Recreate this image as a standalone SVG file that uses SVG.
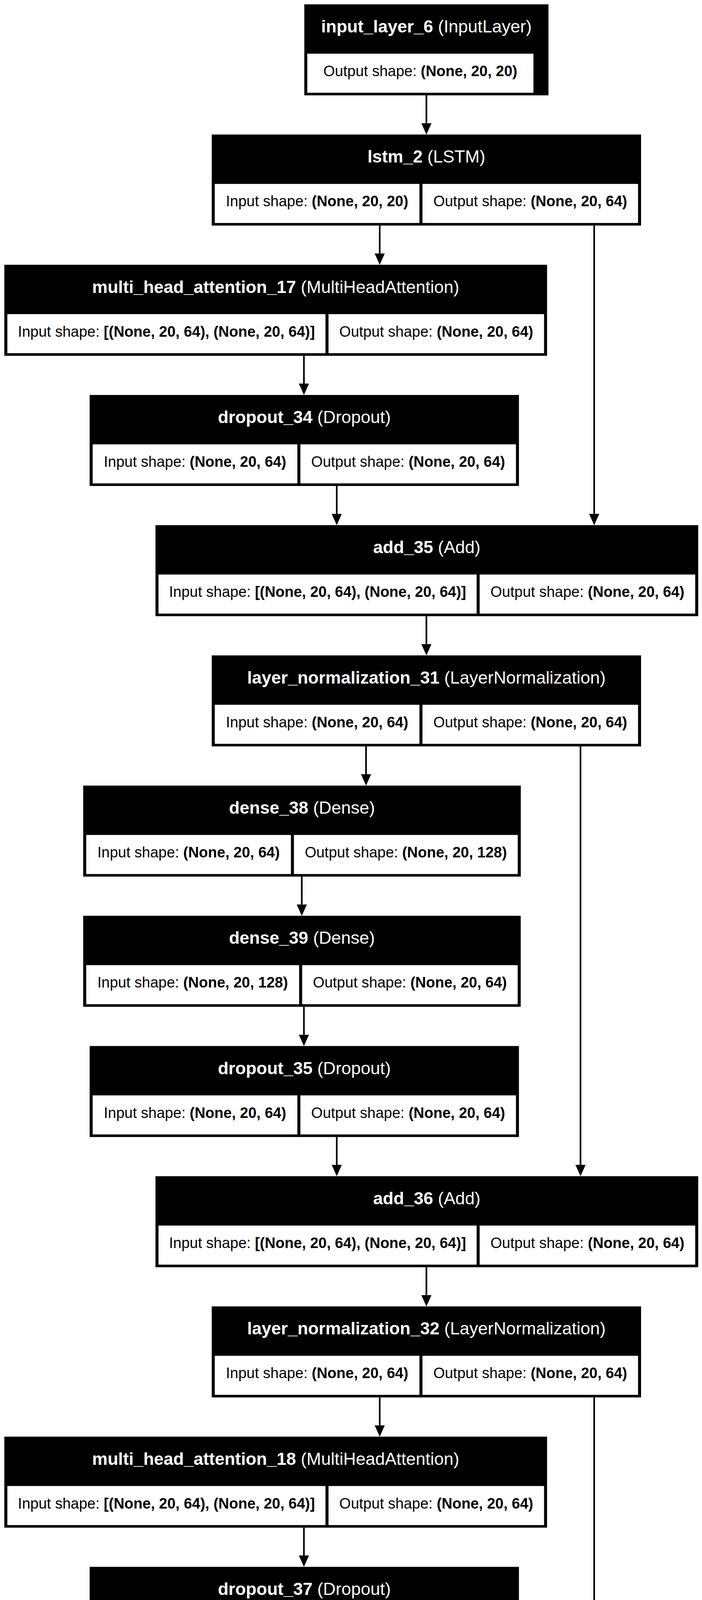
<svg xmlns="http://www.w3.org/2000/svg" width="1797" height="7589" viewBox="0 0 1797 7589">
<style>
.bg{fill:#000}
.cell{fill:#fff}
.ti{fill:#fff;font-family:"Liberation Sans",Arial,Helvetica,sans-serif;font-size:44.5px;text-anchor:middle}
.tx{fill:#000;font-family:"Liberation Sans",Arial,Helvetica,sans-serif;font-size:38px;text-anchor:middle}
.b{font-weight:bold}
.edge{stroke:#000;stroke-width:4.2;fill:none;marker-end:url(#ah)}
</style>
<defs>
<marker id="ah" markerUnits="userSpaceOnUse" viewBox="0 0 30 26" markerWidth="30" markerHeight="26" refX="0" refY="13" orient="auto">
<path d="M0,0 L29,13 L0,26 Z" fill="#000"/>
</marker>
</defs>
<rect x="0" y="0" width="1797" height="7589" fill="#fff"/>

<g id="connectors">
<line class="edge" x1="1091.5" y1="244.1" x2="1091.5" y2="315.4"/>
<line class="edge" x1="972" y1="577.4" x2="972" y2="648.8"/>
<line class="edge" x1="1521" y1="577.4" x2="1521" y2="1315.4"/>
<line class="edge" x1="778" y1="910.8" x2="778" y2="982.1"/>
<line class="edge" x1="862" y1="1244.1" x2="862" y2="1315.4"/>
<line class="edge" x1="1091.5" y1="1577.4" x2="1091.5" y2="1648.8"/>
<line class="edge" x1="937" y1="1910.8" x2="937" y2="1982.1"/>
<line class="edge" x1="1486" y1="1910.8" x2="1486" y2="2982.1"/>
<line class="edge" x1="772.5" y1="2244.1" x2="772.5" y2="2315.4"/>
<line class="edge" x1="778" y1="2577.4" x2="778" y2="2648.8"/>
<line class="edge" x1="862" y1="2910.8" x2="862" y2="2982.1"/>
<line class="edge" x1="1091.5" y1="3244.1" x2="1091.5" y2="3315.4"/>
<line class="edge" x1="972" y1="3577.4" x2="972" y2="3648.8"/>
<line class="edge" x1="1521" y1="3577.4" x2="1521" y2="4315.4"/>
<line class="edge" x1="778" y1="3910.8" x2="778" y2="3982.1"/>
<line class="edge" x1="862" y1="4244.1" x2="862" y2="4315.4"/>
<line class="edge" x1="1091.5" y1="4577.4" x2="1091.5" y2="4648.8"/>
<line class="edge" x1="937" y1="4910.8" x2="937" y2="4982.1"/>
<line class="edge" x1="1486" y1="4910.8" x2="1486" y2="5982.1"/>
<line class="edge" x1="772.5" y1="5244.1" x2="772.5" y2="5315.4"/>
<line class="edge" x1="778" y1="5577.4" x2="778" y2="5648.8"/>
<line class="edge" x1="862" y1="5910.8" x2="862" y2="5982.1"/>
<line class="edge" x1="1091.5" y1="6244.1" x2="1091.5" y2="6315.4"/>
<line class="edge" x1="1091.5" y1="6577.4" x2="1091.5" y2="6648.8"/>
<line class="edge" x1="1091.5" y1="6910.8" x2="1091.5" y2="6982.1"/>
<line class="edge" x1="1091.5" y1="7244.1" x2="1091.5" y2="7315.4"/>
</g>

<g id="input_layer_6" transform="translate(0,11.1)">
<rect class="bg" x="779" y="0" width="625" height="233"/>
<rect class="cell" x="786.5" y="126.4" width="579" height="100"/>
<text class="ti" x="1091.5" y="72"><tspan class="b">input_layer_6</tspan> (InputLayer)</text>
<text class="tx" x="1076" y="184">Output shape: <tspan class="b">(None, 20, 20)</tspan></text>
</g>

<g id="lstm_2" transform="translate(0,344.4)">
<rect class="bg" x="542" y="0" width="1099" height="233"/>
<rect class="cell" x="549.7" y="126.4" width="524" height="100"/>
<rect class="cell" x="1081.4" y="126.4" width="551.9" height="100"/>
<text class="ti" x="1091.5" y="72"><tspan class="b">lstm_2</tspan> (LSTM)</text>
<text class="tx" x="811.7" y="184">Input shape: <tspan class="b">(None, 20, 20)</tspan></text>
<text class="tx" x="1357.35" y="184">Output shape: <tspan class="b">(None, 20, 64)</tspan></text>
</g>

<g id="multi_head_attention_17" transform="translate(0,677.8)">
<rect class="bg" x="11.1" y="0" width="1389.3" height="233"/>
<rect class="cell" x="18.8" y="126.4" width="814.4" height="100"/>
<rect class="cell" x="840.9" y="126.4" width="551.8" height="100"/>
<text class="ti" x="705.75" y="72"><tspan class="b">multi_head_attention_17</tspan> (MultiHeadAttention)</text>
<text class="tx" x="426" y="184">Input shape: <tspan class="b">[(None, 20, 64), (None, 20, 64)]</tspan></text>
<text class="tx" x="1116.8" y="184">Output shape: <tspan class="b">(None, 20, 64)</tspan></text>
</g>

<g id="dropout_34" transform="translate(0,1011.1)">
<rect class="bg" x="229.5" y="0" width="1098.9" height="233"/>
<rect class="cell" x="237.2" y="126.4" width="524" height="100"/>
<rect class="cell" x="768.9" y="126.4" width="551.8" height="100"/>
<text class="ti" x="778.95" y="72"><tspan class="b">dropout_34</tspan> (Dropout)</text>
<text class="tx" x="499.2" y="184">Input shape: <tspan class="b">(None, 20, 64)</tspan></text>
<text class="tx" x="1044.8" y="184">Output shape: <tspan class="b">(None, 20, 64)</tspan></text>
</g>

<g id="add_35" transform="translate(0,1344.4)">
<rect class="bg" x="398" y="0" width="1389.3" height="233"/>
<rect class="cell" x="405.7" y="126.4" width="814.4" height="100"/>
<rect class="cell" x="1227.8" y="126.4" width="551.8" height="100"/>
<text class="ti" x="1092.65" y="72"><tspan class="b">add_35</tspan> (Add)</text>
<text class="tx" x="812.9" y="184">Input shape: <tspan class="b">[(None, 20, 64), (None, 20, 64)]</tspan></text>
<text class="tx" x="1503.7" y="184">Output shape: <tspan class="b">(None, 20, 64)</tspan></text>
</g>

<g id="layer_normalization_31" transform="translate(0,1677.8)">
<rect class="bg" x="542" y="0" width="1099" height="233"/>
<rect class="cell" x="549.7" y="126.4" width="524" height="100"/>
<rect class="cell" x="1081.4" y="126.4" width="551.9" height="100"/>
<text class="ti" x="1091.5" y="72"><tspan class="b">layer_normalization_31</tspan> (LayerNormalization)</text>
<text class="tx" x="811.7" y="184">Input shape: <tspan class="b">(None, 20, 64)</tspan></text>
<text class="tx" x="1357.35" y="184">Output shape: <tspan class="b">(None, 20, 64)</tspan></text>
</g>

<g id="dense_38" transform="translate(0,2011.1)">
<rect class="bg" x="213" y="0" width="1120.1" height="233"/>
<rect class="cell" x="220.7" y="126.4" width="524" height="100"/>
<rect class="cell" x="752.4" y="126.4" width="573" height="100"/>
<text class="ti" x="773.05" y="72"><tspan class="b">dense_38</tspan> (Dense)</text>
<text class="tx" x="482.7" y="184">Input shape: <tspan class="b">(None, 20, 64)</tspan></text>
<text class="tx" x="1038.9" y="184">Output shape: <tspan class="b">(None, 20, 128)</tspan></text>
</g>

<g id="dense_39" transform="translate(0,2344.4)">
<rect class="bg" x="213" y="0" width="1119.9" height="233"/>
<rect class="cell" x="220.7" y="126.4" width="545" height="100"/>
<rect class="cell" x="773.4" y="126.4" width="551.8" height="100"/>
<text class="ti" x="772.95" y="72"><tspan class="b">dense_39</tspan> (Dense)</text>
<text class="tx" x="493.2" y="184">Input shape: <tspan class="b">(None, 20, 128)</tspan></text>
<text class="tx" x="1049.3" y="184">Output shape: <tspan class="b">(None, 20, 64)</tspan></text>
</g>

<g id="dropout_35" transform="translate(0,2677.8)">
<rect class="bg" x="229.5" y="0" width="1098.9" height="233"/>
<rect class="cell" x="237.2" y="126.4" width="524" height="100"/>
<rect class="cell" x="768.9" y="126.4" width="551.8" height="100"/>
<text class="ti" x="778.95" y="72"><tspan class="b">dropout_35</tspan> (Dropout)</text>
<text class="tx" x="499.2" y="184">Input shape: <tspan class="b">(None, 20, 64)</tspan></text>
<text class="tx" x="1044.8" y="184">Output shape: <tspan class="b">(None, 20, 64)</tspan></text>
</g>

<g id="add_36" transform="translate(0,3011.1)">
<rect class="bg" x="398" y="0" width="1389.3" height="233"/>
<rect class="cell" x="405.7" y="126.4" width="814.4" height="100"/>
<rect class="cell" x="1227.8" y="126.4" width="551.8" height="100"/>
<text class="ti" x="1092.65" y="72"><tspan class="b">add_36</tspan> (Add)</text>
<text class="tx" x="812.9" y="184">Input shape: <tspan class="b">[(None, 20, 64), (None, 20, 64)]</tspan></text>
<text class="tx" x="1503.7" y="184">Output shape: <tspan class="b">(None, 20, 64)</tspan></text>
</g>

<g id="layer_normalization_32" transform="translate(0,3344.4)">
<rect class="bg" x="542" y="0" width="1099" height="233"/>
<rect class="cell" x="549.7" y="126.4" width="524" height="100"/>
<rect class="cell" x="1081.4" y="126.4" width="551.9" height="100"/>
<text class="ti" x="1091.5" y="72"><tspan class="b">layer_normalization_32</tspan> (LayerNormalization)</text>
<text class="tx" x="811.7" y="184">Input shape: <tspan class="b">(None, 20, 64)</tspan></text>
<text class="tx" x="1357.35" y="184">Output shape: <tspan class="b">(None, 20, 64)</tspan></text>
</g>

<g id="multi_head_attention_18" transform="translate(0,3677.8)">
<rect class="bg" x="11.1" y="0" width="1389.3" height="233"/>
<rect class="cell" x="18.8" y="126.4" width="814.4" height="100"/>
<rect class="cell" x="840.9" y="126.4" width="551.8" height="100"/>
<text class="ti" x="705.75" y="72"><tspan class="b">multi_head_attention_18</tspan> (MultiHeadAttention)</text>
<text class="tx" x="426" y="184">Input shape: <tspan class="b">[(None, 20, 64), (None, 20, 64)]</tspan></text>
<text class="tx" x="1116.8" y="184">Output shape: <tspan class="b">(None, 20, 64)</tspan></text>
</g>

<g id="dropout_37" transform="translate(0,4011.1)">
<rect class="bg" x="229.5" y="0" width="1098.9" height="233"/>
<rect class="cell" x="237.2" y="126.4" width="524" height="100"/>
<rect class="cell" x="768.9" y="126.4" width="551.8" height="100"/>
<text class="ti" x="778.95" y="72"><tspan class="b">dropout_37</tspan> (Dropout)</text>
<text class="tx" x="499.2" y="184">Input shape: <tspan class="b">(None, 20, 64)</tspan></text>
<text class="tx" x="1044.8" y="184">Output shape: <tspan class="b">(None, 20, 64)</tspan></text>
</g>

<g id="add_37" transform="translate(0,4344.4)">
<rect class="bg" x="398" y="0" width="1389.3" height="233"/>
<rect class="cell" x="405.7" y="126.4" width="814.4" height="100"/>
<rect class="cell" x="1227.8" y="126.4" width="551.8" height="100"/>
<text class="ti" x="1092.65" y="72"><tspan class="b">add_37</tspan> (Add)</text>
<text class="tx" x="812.9" y="184">Input shape: <tspan class="b">[(None, 20, 64), (None, 20, 64)]</tspan></text>
<text class="tx" x="1503.7" y="184">Output shape: <tspan class="b">(None, 20, 64)</tspan></text>
</g>

<g id="layer_normalization_33" transform="translate(0,4677.8)">
<rect class="bg" x="542" y="0" width="1099" height="233"/>
<rect class="cell" x="549.7" y="126.4" width="524" height="100"/>
<rect class="cell" x="1081.4" y="126.4" width="551.9" height="100"/>
<text class="ti" x="1091.5" y="72"><tspan class="b">layer_normalization_33</tspan> (LayerNormalization)</text>
<text class="tx" x="811.7" y="184">Input shape: <tspan class="b">(None, 20, 64)</tspan></text>
<text class="tx" x="1357.35" y="184">Output shape: <tspan class="b">(None, 20, 64)</tspan></text>
</g>

<g id="dense_40" transform="translate(0,5011.1)">
<rect class="bg" x="213" y="0" width="1120.1" height="233"/>
<rect class="cell" x="220.7" y="126.4" width="524" height="100"/>
<rect class="cell" x="752.4" y="126.4" width="573" height="100"/>
<text class="ti" x="773.05" y="72"><tspan class="b">dense_40</tspan> (Dense)</text>
<text class="tx" x="482.7" y="184">Input shape: <tspan class="b">(None, 20, 64)</tspan></text>
<text class="tx" x="1038.9" y="184">Output shape: <tspan class="b">(None, 20, 128)</tspan></text>
</g>

<g id="dense_41" transform="translate(0,5344.4)">
<rect class="bg" x="213" y="0" width="1119.9" height="233"/>
<rect class="cell" x="220.7" y="126.4" width="545" height="100"/>
<rect class="cell" x="773.4" y="126.4" width="551.8" height="100"/>
<text class="ti" x="772.95" y="72"><tspan class="b">dense_41</tspan> (Dense)</text>
<text class="tx" x="493.2" y="184">Input shape: <tspan class="b">(None, 20, 128)</tspan></text>
<text class="tx" x="1049.3" y="184">Output shape: <tspan class="b">(None, 20, 64)</tspan></text>
</g>

<g id="dropout_38" transform="translate(0,5677.8)">
<rect class="bg" x="229.5" y="0" width="1098.9" height="233"/>
<rect class="cell" x="237.2" y="126.4" width="524" height="100"/>
<rect class="cell" x="768.9" y="126.4" width="551.8" height="100"/>
<text class="ti" x="778.95" y="72"><tspan class="b">dropout_38</tspan> (Dropout)</text>
<text class="tx" x="499.2" y="184">Input shape: <tspan class="b">(None, 20, 64)</tspan></text>
<text class="tx" x="1044.8" y="184">Output shape: <tspan class="b">(None, 20, 64)</tspan></text>
</g>

<g id="add_38" transform="translate(0,6011.1)">
<rect class="bg" x="398" y="0" width="1389.3" height="233"/>
<rect class="cell" x="405.7" y="126.4" width="814.4" height="100"/>
<rect class="cell" x="1227.8" y="126.4" width="551.8" height="100"/>
<text class="ti" x="1092.65" y="72"><tspan class="b">add_38</tspan> (Add)</text>
<text class="tx" x="812.9" y="184">Input shape: <tspan class="b">[(None, 20, 64), (None, 20, 64)]</tspan></text>
<text class="tx" x="1503.7" y="184">Output shape: <tspan class="b">(None, 20, 64)</tspan></text>
</g>

<g id="layer_normalization_34" transform="translate(0,6344.4)">
<rect class="bg" x="542" y="0" width="1099" height="233"/>
<rect class="cell" x="549.7" y="126.4" width="524" height="100"/>
<rect class="cell" x="1081.4" y="126.4" width="551.9" height="100"/>
<text class="ti" x="1091.5" y="72"><tspan class="b">layer_normalization_34</tspan> (LayerNormalization)</text>
<text class="tx" x="811.7" y="184">Input shape: <tspan class="b">(None, 20, 64)</tspan></text>
<text class="tx" x="1357.35" y="184">Output shape: <tspan class="b">(None, 20, 64)</tspan></text>
</g>

<g id="flatten_2" transform="translate(0,6677.8)">
<rect class="bg" x="552.5" y="0" width="1078" height="233"/>
<rect class="cell" x="560.2" y="126.4" width="524" height="100"/>
<rect class="cell" x="1091.9" y="126.4" width="530.9" height="100"/>
<text class="ti" x="1091.5" y="72"><tspan class="b">flatten_2</tspan> (Flatten)</text>
<text class="tx" x="822.2" y="184">Input shape: <tspan class="b">(None, 20, 64)</tspan></text>
<text class="tx" x="1357.35" y="184">Output shape: <tspan class="b">(None, 1280)</tspan></text>
</g>

<g id="dense_42" transform="translate(0,7011.1)">
<rect class="bg" x="584" y="0" width="1015" height="233"/>
<rect class="cell" x="591.7" y="126.4" width="503" height="100"/>
<rect class="cell" x="1102.4" y="126.4" width="488.9" height="100"/>
<text class="ti" x="1091.5" y="72"><tspan class="b">dense_42</tspan> (Dense)</text>
<text class="tx" x="843.2" y="184">Input shape: <tspan class="b">(None, 1280)</tspan></text>
<text class="tx" x="1346.85" y="184">Output shape: <tspan class="b">(None, 50)</tspan></text>
</g>

<g id="dense_43" transform="translate(0,7344.4)">
<rect class="bg" x="615.5" y="0" width="952" height="233"/>
<rect class="cell" x="623.2" y="126.4" width="461" height="100"/>
<rect class="cell" x="1091.9" y="126.4" width="467.9" height="100"/>
<text class="ti" x="1091.5" y="72"><tspan class="b">dense_43</tspan> (Dense)</text>
<text class="tx" x="853.7" y="184">Input shape: <tspan class="b">(None, 50)</tspan></text>
<text class="tx" x="1325.85" y="184">Output shape: <tspan class="b">(None, 1)</tspan></text>
</g>
</svg>
